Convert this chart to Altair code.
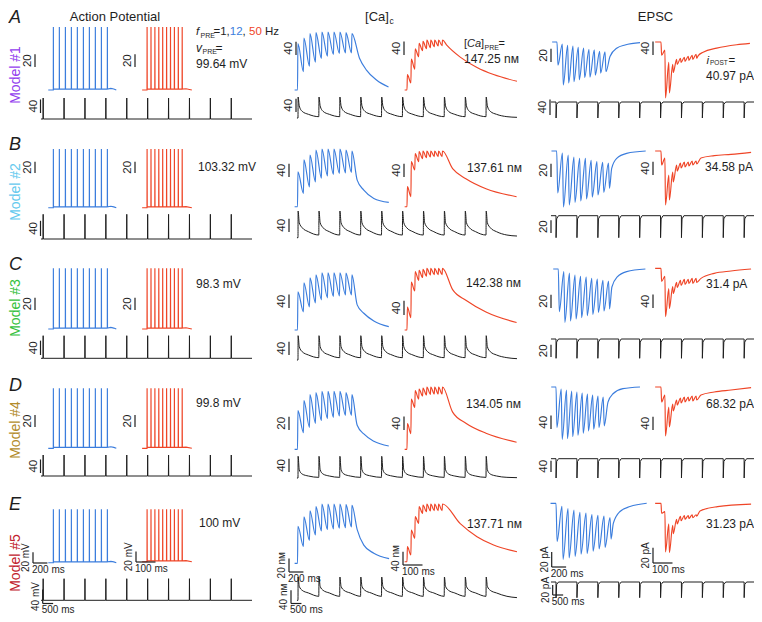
import altair as alt
import pandas as pd

OFF = 8  # page margin (reference pixel -> chart pixel)
FONT = "Liberation Sans"
BLUE = "#3b7ddd"
RED = "#ef4527"
INK = "#1e1e1e"

# ------------------------------------------------------------------ values
LETTERS = ["A", "B", "C", "D", "E"]
MODELS = ["Model #1", "Model #2", "Model #3", "Model #4", "Model #5"]
MODEL_COLORS = ["#9340ee", "#64c9ee", "#35c13c", "#b38b2b", "#c1222d"]
V_PRE = [99.64, 103.32, 98.3, 99.8, 100.0]                    # mV
CA_PRE = ["147.25", "137.61", "142.38", "134.05", "137.71"]   # nM
I_POST = [40.97, 34.58, 31.4, 68.32, 31.23]                   # pA

# spike times (ms) of the 12 Hz, 50 Hz and 1 Hz trains
T_BLUE = [0, 83, 167, 250, 333, 417, 500, 583, 667, 750]
T_RED = [0, 20, 40, 60, 80, 100, 120, 140, 160, 180]
T_BLACK = [0, 1000, 2000, 3000, 4000, 5000, 6000, 7000, 8000, 9000]

# action potentials (mV above rest)
AP_LEVEL = [1.5, 1.5, 1.5, 1.5, 1.5]
AP_BLACK_PEAK = [62, 65, 63, 62, 62]
AP_BLUE_TAIL_T = [800, 840, 875]
AP_BLUE_TAIL_V = [2.5, 1.5, 0]
AP_RED_TAIL_T = [200, 230]
AP_RED_TAIL_V = [2, 0]

# presynaptic calcium (nM above rest)
CA_BLUE_PEAK = [
    [140, 157, 170, 173, 175, 175, 175, 175, 173, 170],
    [105, 141, 156, 171, 174, 174, 174, 174, 171, 168],
    [114, 141, 156, 165, 171, 171, 171, 171, 170, 165],
    [58, 73, 82, 85, 87, 87, 87, 87, 85, 82],
    [55, 69, 78, 84, 88, 88, 88, 88, 87, 86],
]
CA_BLUE_TROUGH = [
    [55, 72, 84, 95, 102, 107, 110, 112, 112],
    [40, 60, 75, 86, 93, 97, 100, 102, 103],
    [54, 69, 81, 90, 96, 100, 102, 105, 105],
    [25, 33, 39, 43, 46, 48, 50, 51, 51],
    [25, 34, 42, 48, 50, 51, 52, 53, 54],
]
CA_BLUE_TAIL_T = [
    [861, 958, 1097, 1264],
    [829, 921, 1060, 1268],
    [829, 921, 1060, 1268],
    [829, 921, 1060, 1268],
    [829, 921, 1060, 1272],
]
CA_BLUE_TAIL_V = [
    [96, 60, 30, 9],
    [80, 50, 25, 13],
    [75, 50, 27, 10],
    [36, 23, 12, 5],
    [50, 27, 15, 7],
]
CA_RED_PEAK = [
    [46, 92, 123, 139, 145, 149, 149, 149, 149, 149],
    [60, 135, 159, 165, 167, 167, 167, 167, 167, 167],
    [65, 135, 165, 168, 171, 174, 174, 174, 174, 174],
    [77, 150, 175, 180, 183, 186, 186, 186, 186, 186],
    [45, 95, 135, 165, 170, 173, 173, 173, 173, 173],
]
CA_RED_TROUGH = [
    [21, 62, 99, 117, 123, 126, 129, 131, 132],
    [30, 110, 135, 144, 147, 149, 150, 150, 150],
    [35, 110, 140, 148, 152, 155, 156, 156, 156],
    [47, 125, 150, 159, 162, 164, 165, 165, 165],
    [20, 70, 115, 145, 150, 152, 153, 153, 153],
]
CA_RED_TAIL_T = [
    [205, 273, 359, 444, 564],
    [234, 302, 405, 562],
    [234, 302, 405, 562],
    [234, 302, 405, 562],
    [273, 359, 444, 564],
]
CA_RED_TAIL_V = [
    [133, 98, 67, 46, 26],
    [114, 84, 54, 30],
    [114, 84, 51, 21],
    [111, 78, 48, 21],
    [114, 75, 50, 30],
]
CA_BLACK_OFFS = [5, 60, 200, 500, 995]
CA_BLACK_V = [
    [63, 36, 20, 11, 4],
    [80, 45, 30, 18, 8],
    [73, 40, 25, 15, 7],
    [66, 25, 12, 6, 2],
    [70, 42, 30, 22, 12],
]
CA_BLACK_END = [2, 5, 4, 1, 8]

# EPSC (pA, inward = negative)
EPB_MIN = [
    [35, 65, 62, 60, 57, 54, 53, 50, 47, 45],
    [63, 84, 81, 77, 75, 72, 69, 66, 62, 56],
    [64, 80, 78, 75, 73, 70, 68, 65, 63, 60],
    [120, 155, 153, 147, 143, 137, 130, 125, 120, 115],
    [51, 75, 73, 71, 68, 67, 64, 61, 59, 48],
]
EPB_TOP = [
    [3, 5, 6, 8, 9, 11, 12, 14, 15],
    [3, 6, 9, 11, 11, 14, 16, 17, 18],
    [4, 6, 9, 11, 12, 14, 15, 17, 18],
    [6, 9, 12, 15, 18, 21, 24, 27, 30],
    [4, 7, 9, 12, 13, 15, 16, 17, 19],
]
EPB_TAIL_T = [
    [828, 938, 1063, 1297],
    [797, 870, 1014, 1290],
    [800, 880, 1020, 1300],
    [825, 905, 1063, 1333],
    [796, 889, 1028, 1260],
]
EPB_TAIL_V = [
    [22, 9, 4.5, 1],
    [26, 11, 3.5, 0],
    [27, 12, 4, 0],
    [45, 20, 5, 0],
    [27, 11, 4.4, 0],
]
EPR_MIN = [
    [39, 165, 150, 90, 66, 60, 57, 54, 51, 48],
    [42, 162, 147, 93, 60, 51, 48, 45, 42, 39],
    [39, 144, 120, 75, 57, 51, 48, 45, 45, 42],
    [45, 147, 120, 72, 54, 48, 45, 42, 42, 39],
    [13, 64, 65, 40, 27, 23, 21, 20, 19, 17],
]
EPR_TOP = [
    [24, 60, 66, 51, 48, 45, 42, 39, 36],
    [21, 72, 63, 42, 36, 33, 33, 30, 30],
    [24, 60, 54, 42, 36, 33, 33, 30, 30],
    [24, 60, 51, 39, 33, 30, 30, 27, 27],
    [11, 27, 29, 21, 17, 16, 16, 15, 15],
]
EPR_TAIL_T = [
    [191, 216, 286, 388, 456],
    [205, 273, 359, 462],
    [205, 273, 359, 462],
    [205, 273, 359, 462],
    [200, 290, 462],
]
EPR_TAIL_V = [
    [40, 30, 18, 8, 4],
    [21, 14, 10, 4],
    [30, 15, 8, 2],
    [24, 15, 9, 2],
    [10, 4.4, 1],
]
EPK_OFFS = [0, 3, 30, 120]
EPK_V = [
    [0, -40.97, -6, 0],
    [0, -34.58, -5, 0],
    [0, -31.4, -5, 0],
    [0, -68.32, -10, 0],
    [0, -31.23, -5, 0],
]

# scale bars: value of every bar, time bars of the last row
BAR_VALUES = [
    {"apb": 20, "apr": 20, "apk": 40, "cab": 40, "car": 40, "cak": 40, "epb": 20, "epr": 40, "epk": 40},
    {"apb": 20, "apr": 20, "apk": 40, "cab": 40, "car": 40, "cak": 40, "epb": 20, "epr": 40, "epk": 20},
    {"apb": 20, "apr": 20, "apk": 40, "cab": 40, "car": 40, "cak": 40, "epb": 20, "epr": 40, "epk": 20},
    {"apb": 20, "apr": 20, "apk": 40, "cab": 20, "car": 40, "cak": 40, "epb": 40, "epr": 40, "epk": 40},
    {"apb": 20, "apr": 20, "apk": 40, "cab": 20, "car": 40, "cak": 40, "epb": 20, "epr": 20, "epk": 20},
]
TIME_BARS = {"apb": 200, "apr": 100, "apk": 500, "cab": 200, "car": 100, "cak": 500,
             "epb": 200, "epr": 100, "epk": 500}
UNITS = {"ap": "mV", "ca": "n\u1d0d", "ep": "pA"}

# ------------------------------------------------------------------ layout (reference pixels)
GX = {"apb": (53.3, 0.072), "apr": (147, 0.195), "apk": (43, 0.0209),
      "cab": (297.5, 0.072), "car": (407, 0.195), "cak": (298, 0.0209),
      "epr": (661, 0.195), "epk": (556, 0.0209)}
EPB_GX = [(557, 0.064), (556.7, 0.069), (558.3, 0.067), (556, 0.063), (556, 0.072)]
GY = [
    {"apb": (90, 27), "apr": (90, 27), "apk": (119, 98), "cab": (90, 32), "car": (90, 40),
     "cak": (118, 97), "epb": (42, 85), "epr": (42, 98), "epk": (102, 118)},
    {"apb": (207.7, 149), "apr": (207.7, 149), "apk": (239, 214.3), "cab": (206.7, 149),
     "car": (206.7, 151), "cak": (237.7, 211), "epb": (151, 207), "epr": (151, 205),
     "epk": (215.7, 237.7)},
    {"apb": (329, 268.3), "apr": (329, 268.3), "apk": (358.3, 335.7), "cab": (330, 272.7),
     "car": (330, 268.3), "cak": (360, 335.7), "epb": (269, 322.3), "epr": (268.3, 316.7),
     "epk": (339, 358.3)},
    {"apb": (448.3, 388.3), "apr": (448.3, 388.3), "apk": (476, 455), "cab": (449.3, 391.3),
     "car": (449.3, 387), "cak": (478, 456.3), "epb": (387, 439.3), "epr": (387, 436),
     "epk": (458.7, 478)},
    {"apb": (562.7, 509.3), "apr": (561.7, 509.3), "apk": (600.3, 578.7), "cab": (563.3, 504),
     "car": (561.7, 504), "cak": (600.3, 577), "epb": (503.3, 559.3), "epr": (503.3, 552.7),
     "epk": (582, 597.7)},
]
BAR_POS = [
    {"apb": (35, 67), "apr": (135, 67), "apk": (40.5, 113), "cab": (296, 55), "car": (404, 55),
     "cak": (296, 112), "epb": (551, 62), "epr": (653, 55), "epk": (550, 115)},
    {"apb": (35, 173), "apr": (135, 173), "apk": (40.5, 236), "cab": (289, 177), "car": (404, 177),
     "cak": (289, 232), "epb": (551, 177), "epr": (653, 175), "epk": (551, 233)},
    {"apb": (35, 310), "apr": (135, 310), "apk": (40.5, 355), "cab": (289, 308), "car": (404, 315),
     "cak": (289, 355), "epb": (551, 308), "epr": (653, 308), "epk": (551, 357)},
    {"apb": (35, 427), "apr": (135, 427), "apk": (40.5, 473), "cab": (289, 430), "car": (404, 430),
     "cak": (289, 472), "epb": (551, 429), "epr": (653, 430), "epk": (551, 472)},
    {"apb": (33, 563), "apr": (136, 562), "apk": (42.7, 603.5), "cab": (289, 572), "car": (403, 565),
     "cak": (291, 603.5), "epb": (551.7, 567), "epr": (653, 563), "epk": (552.7, 595)},
]


# ------------------------------------------------------------------ trace builders
def spikes(times, peak, level, start, tail_t, tail_v, width):
    rows = [(start, 0.0), (times[0] - width, 0.0)]
    for i, t in enumerate(times):
        base = 0.0 if i == 0 else level
        rows += [(t, base), (t + width * 0.4, peak), (t + width, level)]
    rows += list(zip(tail_t, tail_v))
    return rows


def sawtooth(times, peaks, troughs, rise, start, tail_t, tail_v, sign=1):
    rows = [(start, 0.0), (times[0], 0.0)]
    for i, t in enumerate(times):
        rows.append((t + rise, sign * peaks[i]))
        if i < len(troughs):
            rows.append((times[i + 1], sign * troughs[i]))
    rows += [(a, sign * b) for a, b in zip(tail_t, tail_v)]
    return rows


def repeated(times, offs, vals, start, end_t, end_v):
    rows = [(start, 0.0), (times[0], 0.0)]
    for t in times:
        rows += [(t + o, v) for o, v in zip(offs, vals)]
    rows.append((end_t, end_v))
    return rows


def panel(m, key, rows, color, interp):
    x0, ppms = EPB_GX[m] if key == "epb" else GX[key]
    y0, yext = GY[m][key]
    vals = [r[1] for r in rows]
    vext = min(vals) if key.startswith("ep") else max(vals)
    xs = alt.Scale(domain=[0, 1000], range=[x0 - OFF, x0 - OFF + 1000 * ppms], nice=False, zero=False)
    ys = alt.Scale(domain=[0, vext], range=[y0 - OFF, yext - OFF], nice=False, zero=False)
    X = alt.X("t:Q", scale=xs, axis=None)
    Y = alt.Y("v:Q", scale=ys, axis=None)
    df = pd.DataFrame({"i": list(range(len(rows))), "t": [r[0] for r in rows], "v": vals})
    sw = 1.0 if color == INK else 1.15
    sub = [alt.Chart(df).mark_line(color=color, strokeWidth=sw, interpolate=interp)
           .encode(x=X, y=Y, order="i:Q")]
    bx, by = BAR_POS[m][key]
    bval = BAR_VALUES[m][key]
    tb = (bx - x0) / ppms
    vb = vext * (by - y0) / (yext - y0)
    vbar = pd.DataFrame({"t": [tb], "v": [vb], "v2": [vb + bval]})
    sub.append(alt.Chart(vbar).mark_rule(color=INK, strokeWidth=1.2)
               .encode(x=X, y=Y, y2="v2:Q"))
    if m == 4:
        ms = TIME_BARS[key]
        hbar = pd.DataFrame({"t": [tb], "t2": [tb + ms], "v": [vb]})
        sub.append(alt.Chart(hbar).mark_rule(color=INK, strokeWidth=1.2)
                   .encode(x=X, x2="t2:Q", y=Y))
        hl = pd.DataFrame({"t": [tb], "v": [vb], "s": [f"{ms} ms"]})
        sub.append(alt.Chart(hl).mark_text(align="left", baseline="top", dy=1.5, dx=-1, fontSize=10,
                                           font=FONT, color=INK)
                   .encode(x=X, y=Y, text="s:N"))
        lab, size = f"{bval} {UNITS[key[:2]]}", 10
    else:
        lab, size = str(bval), 11.5
    vl = pd.DataFrame({"t": [tb], "v": [vb + bval / 2], "s": [lab]})
    sub.append(alt.Chart(vl).mark_text(angle=270, align="center", baseline="bottom", dy=-2,
                                       fontSize=size, font=FONT, color=INK)
               .encode(x=X, y=Y, text="s:N"))
    return alt.layer(*sub)


def fixed_text(s, x, y, size=12, color=INK, style="normal", align="left", baseline="middle", angle=0):
    mk = dict(align=align, baseline=baseline, fontSize=size, font=FONT, color=color, fontStyle=style)
    if angle:
        mk["angle"] = angle
    return (alt.Chart(pd.DataFrame({"s": [s]})).mark_text(**mk)
            .encode(x=alt.value(x - OFF), y=alt.value(y - OFF), text="s:N"))


layers = []
for m in range(5):
    traces = {
        "apb": (spikes(T_BLUE, V_PRE[m], AP_LEVEL[m], -70, AP_BLUE_TAIL_T, AP_BLUE_TAIL_V, 2.5), BLUE, "linear"),
        "apr": (spikes(T_RED, V_PRE[m], AP_LEVEL[m], -25, AP_RED_TAIL_T, AP_RED_TAIL_V, 1.2), RED, "linear"),
        "apk": (repeated(T_BLACK, [0, 8, 16], [0, AP_BLACK_PEAK[m], 0], -96, 10000, 0), INK, "linear"),
        "cab": (sawtooth(T_BLUE, CA_BLUE_PEAK[m], CA_BLUE_TROUGH[m], 6, -40,
                         CA_BLUE_TAIL_T[m], CA_BLUE_TAIL_V[m]), BLUE, "monotone"),
        "car": (sawtooth(T_RED, CA_RED_PEAK[m], CA_RED_TROUGH[m], 2, -12,
                         CA_RED_TAIL_T[m], CA_RED_TAIL_V[m]), RED, "monotone"),
        "cak": (repeated(T_BLACK, CA_BLACK_OFFS, CA_BLACK_V[m], -50, 10478, CA_BLACK_END[m]), INK, "monotone"),
        "epb": (sawtooth(T_BLUE, EPB_MIN[m], EPB_TOP[m], 15, -76,
                         EPB_TAIL_T[m], EPB_TAIL_V[m], sign=-1), BLUE, "monotone"),
        "epr": (sawtooth(T_RED, EPR_MIN[m], EPR_TOP[m], 3, -30,
                         EPR_TAIL_T[m], EPR_TAIL_V[m], sign=-1), RED, "monotone"),
        "epk": (repeated(T_BLACK, EPK_OFFS, EPK_V[m], -240, 9500, 0), INK, "linear"),
    }
    for key, (rows, color, interp) in traces.items():
        layers.append(panel(m, key, rows, color, interp))

# ------------------------------------------------------------------ text
ROW_LETTER_Y = [18, 145, 265, 386, 505]
MODEL_Y = [75, 192, 308, 430, 563]
AP_TEXT_Y = [64, 167, 284, 403, 523]
AP_TEXT_X = [196, 198, 196, 196, 199]
CA_TEXT_Y = [59, 168, 283, 404, 524]
CA_TEXT_X = [464, 467, 466, 466, 467]
EP_TEXT_Y = [76, 167, 284, 404, 524]
EP_TEXT_X = [706, 705, 706, 706, 706]

texts = [
    fixed_text("Action Potential", 115, 16.5, 13, align="center"),
    fixed_text("[Ca]", 377, 16.5, 13, align="center"),
    fixed_text("c", 389.5, 20.5, 8.5),
    fixed_text("EPSC", 655.5, 16.5, 13, align="center"),
    # f_PRE = 1, 12, 50 Hz
    fixed_text("f", 196, 32, 11.5, style="italic"),
    fixed_text("PRE", 200.5, 35.5, 7),
    fixed_text("=1,", 213.5, 32, 11.5),
    fixed_text("12", 229.8, 32, 11.5, color=BLUE),
    fixed_text(",", 242.6, 32, 11.5),
    fixed_text("50", 249, 32, 11.5, color=RED),
    fixed_text("Hz", 265, 32, 11.5),
    # v_PRE =
    fixed_text("v", 196, 48, 12, style="italic"),
    fixed_text("PRE", 202.5, 51.5, 7),
    fixed_text("=", 215.5, 48, 12),
    # [Ca]_PRE =
    fixed_text("[", 464, 44, 11),
    fixed_text("Ca", 467, 44, 11, style="italic"),
    fixed_text("]", 481, 44, 11),
    fixed_text("PRE", 484.5, 47.5, 7),
    fixed_text("=", 498.5, 44, 11),
    # i_POST =
    fixed_text("i", 706.5, 60.5, 11.5, style="italic"),
    fixed_text("POST", 710, 63, 6.5),
    fixed_text("=", 728.5, 60.5, 11.5),
]
for m in range(5):
    texts.append(fixed_text(LETTERS[m], 9, ROW_LETTER_Y[m], 18, style="italic"))
    texts.append(fixed_text(MODELS[m], 16, MODEL_Y[m], 14, color=MODEL_COLORS[m],
                            align="center", angle=270))
    texts.append(fixed_text(f"{V_PRE[m]:g} mV", AP_TEXT_X[m], AP_TEXT_Y[m], 12))
    texts.append(fixed_text(f"{CA_PRE[m]} n\u1d0d", CA_TEXT_X[m], CA_TEXT_Y[m], 12))
    texts.append(fixed_text(f"{I_POST[m]:g} pA", EP_TEXT_X[m], EP_TEXT_Y[m], 12))

chart = (
    alt.layer(*layers, *texts)
    .resolve_scale(x="independent", y="independent")
    .properties(width=746, height=606, padding=0, autosize=alt.AutoSizeParams(type="none"))
    .configure_view(strokeWidth=0)
)
chart.save("out.html", embed_options={"renderer": "svg", "actions": False})
